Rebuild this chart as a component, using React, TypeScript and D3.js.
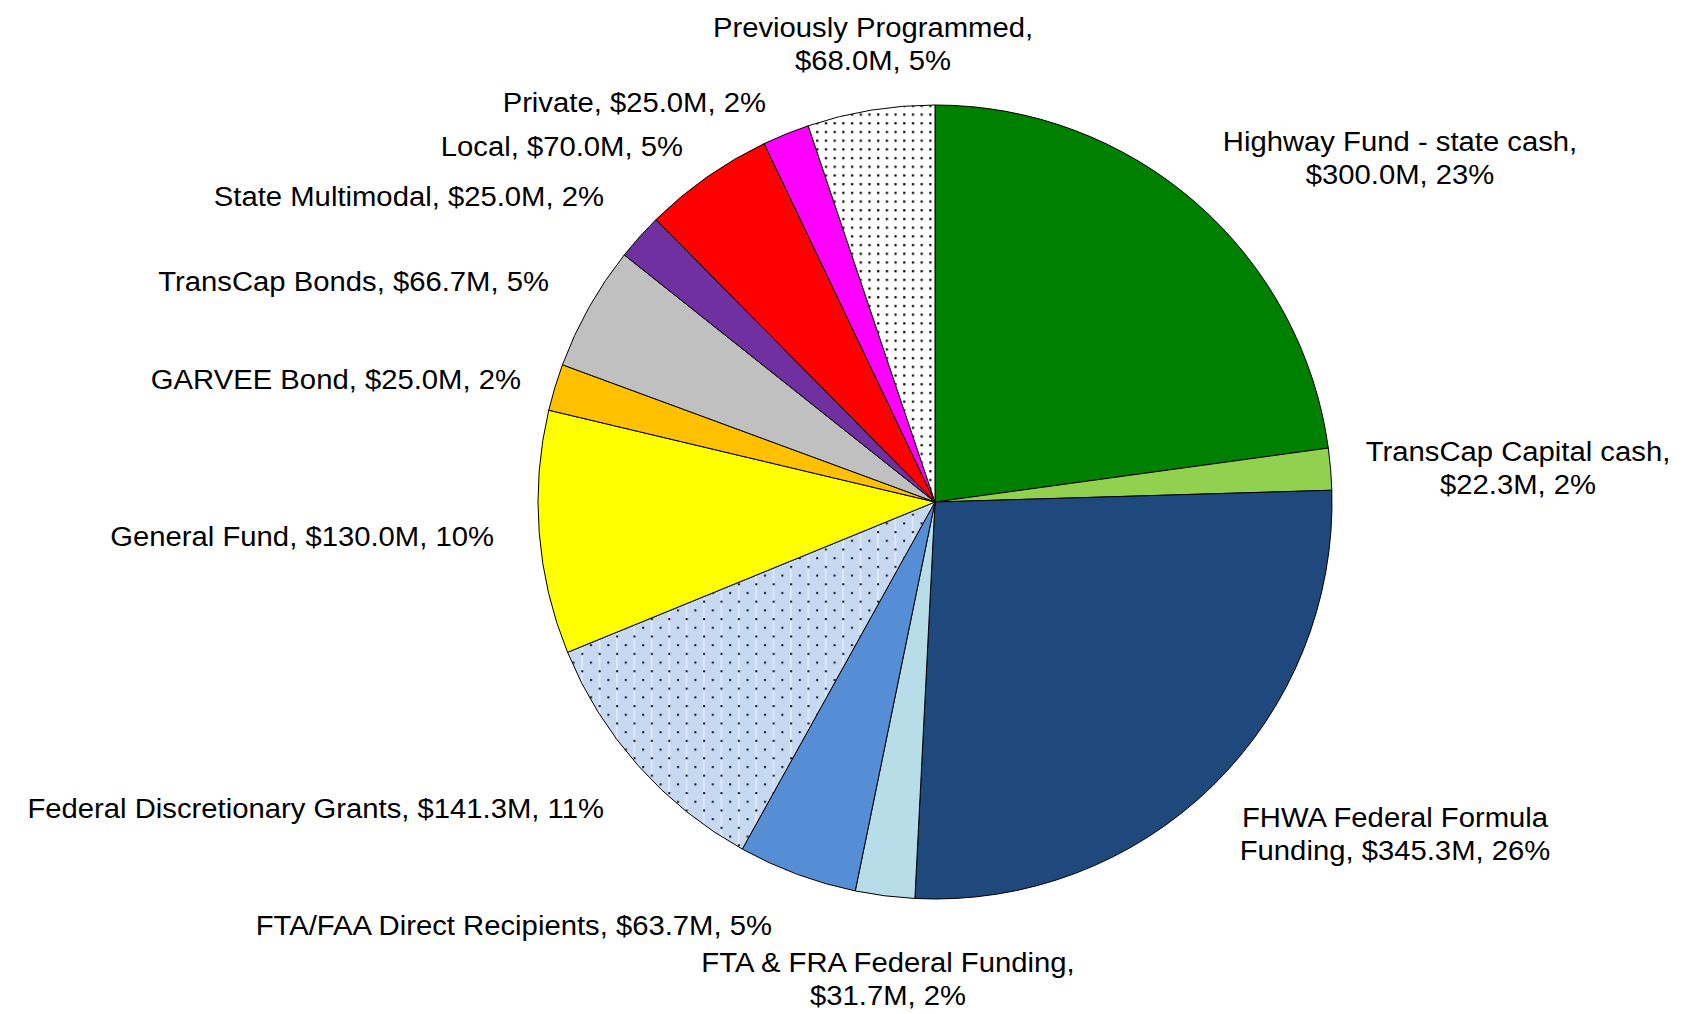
import { useEffect, useRef } from "react";
import * as d3 from "d3";

const names = [
  "Highway Fund - state cash",
  "TransCap Capital cash",
  "FHWA Federal Formula Funding",
  "FTA & FRA Federal Funding",
  "FTA/FAA Direct Recipients",
  "Federal Discretionary Grants",
  "General Fund",
  "GARVEE Bond",
  "TransCap Bonds",
  "State Multimodal",
  "Local",
  "Private",
  "Previously Programmed",
];
const values = [300.0, 22.3, 345.3, 31.7, 63.7, 141.3, 130.0, 25.0, 66.7, 25.0, 70.0, 25.0, 68.0];
const fills = [
  "#008000", "#92D050", "#1F497D", "#B7DDE8", "#558ED5", "url(#dotsBlue)",
  "#FFFF00", "#FFC000", "#C0C0C0", "#7030A0", "#FF0000", "#FF00FF", "url(#dotsWhite)",
];

// label lines as Excel broke them
const labelLines: string[][] = [
  ["Highway Fund - state cash,", "$300.0M, 23%"],
  ["TransCap Capital cash,", "$22.3M, 2%"],
  ["FHWA Federal Formula", "Funding, $345.3M, 26%"],
  ["FTA & FRA Federal Funding,", "$31.7M, 2%"],
  ["FTA/FAA Direct Recipients, $63.7M, 5%"],
  ["Federal Discretionary Grants, $141.3M, 11%"],
  ["General Fund, $130.0M, 10%"],
  ["GARVEE Bond, $25.0M, 2%"],
  ["TransCap Bonds, $66.7M, 5%"],
  ["State Multimodal, $25.0M, 2%"],
  ["Local, $70.0M, 5%"],
  ["Private, $25.0M, 2%"],
  ["Previously Programmed,", "$68.0M, 5%"],
];

// label anchor (first baseline) relative to pie centre, Excel "best fit" placement
const labelLayout: { dx: number; dy: number; anchor: string }[] = [
  { dx: 465, dy: -351, anchor: "middle" },
  { dx: 583, dy: -41, anchor: "middle" },
  { dx: 460, dy: 325, anchor: "middle" },
  { dx: -47, dy: 470, anchor: "middle" },
  { dx: -163, dy: 433, anchor: "end" },
  { dx: -331, dy: 316, anchor: "end" },
  { dx: -441, dy: 44, anchor: "end" },
  { dx: -414, dy: -113, anchor: "end" },
  { dx: -386, dy: -211, anchor: "end" },
  { dx: -331, dy: -296, anchor: "end" },
  { dx: -252, dy: -346, anchor: "end" },
  { dx: -169, dy: -390, anchor: "end" },
  { dx: -62, dy: -465, anchor: "middle" },
];

export default function App() {
  const svgRef = useRef<SVGSVGElement>(null);

  useEffect(() => {
    if (!svgRef.current) return;
    const svg = d3.select(svgRef.current);
    svg.selectAll("*").remove();

    const cx = 935;
    const cy = 502;
    const r = 397;

    const defs = svg.append("defs");
    const pw = defs.append("pattern").attr("id", "dotsWhite").attr("patternUnits", "userSpaceOnUse")
      .attr("width", 8.7).attr("height", 8.7);
    pw.append("rect").attr("width", 8.7).attr("height", 8.7).attr("fill", "#fff");
    pw.append("rect").attr("x", 3).attr("y", 3).attr("width", 2.2).attr("height", 2.2).attr("fill", "#000");

    const pb = defs.append("pattern").attr("id", "dotsBlue").attr("patternUnits", "userSpaceOnUse")
      .attr("width", 17.4).attr("height", 17.4);
    pb.append("rect").attr("width", 17.4).attr("height", 17.4).attr("fill", "#C6D9F1");
    pb.append("rect").attr("x", 12).attr("y", 0).attr("width", 1).attr("height", 17.4).attr("fill", "#fff").attr("opacity", 0.8);
    pb.append("rect").attr("x", 3).attr("y", 3).attr("width", 2).attr("height", 2).attr("fill", "#111");
    pb.append("rect").attr("x", 11.7).attr("y", 11.7).attr("width", 2).attr("height", 2).attr("fill", "#111");

    const data = values.map((v, i) => ({ name: names[i], value: v, i }));
    const pie = d3.pie<{ name: string; value: number; i: number }>()
      .value((d) => d.value).sort(null).startAngle(0).endAngle(2 * Math.PI);
    const arc = d3.arc<d3.PieArcDatum<{ name: string; value: number; i: number }>>()
      .innerRadius(0).outerRadius(r);

    const g = svg.append("g").attr("transform", `translate(${cx},${cy})`);
    g.selectAll("path")
      .data(pie(data))
      .enter()
      .append("path")
      .attr("d", arc)
      .attr("fill", (d) => fills[d.data.i])
      .attr("stroke", "#000")
      .attr("stroke-width", 1)
      .attr("stroke-linejoin", "round");

    // the source font renders a touch wider than Liberation Sans
    const fontSize = 28;
    const lineH = 33;
    const stretch = 1.045;
    data.forEach((d) => {
      const lay = labelLayout[d.i];
      const t = g.append("text")
        .attr("transform", `translate(${lay.dx},${lay.dy}) scale(${stretch},1)`)
        .attr("text-anchor", lay.anchor)
        .attr("font-family", "'Liberation Sans', Arial, sans-serif")
        .attr("font-size", fontSize)
        .attr("fill", "#000");
      labelLines[d.i].forEach((line, k) => {
        t.append("tspan").attr("x", 0).attr("dy", k === 0 ? 0 : lineH).text(line);
      });
    });
  }, []);

  return (
    <svg
      ref={svgRef}
      width={1682}
      height={1014}
      style={{ position: "absolute", left: 0, top: 0, background: "#fff" }}
    />
  );
}
